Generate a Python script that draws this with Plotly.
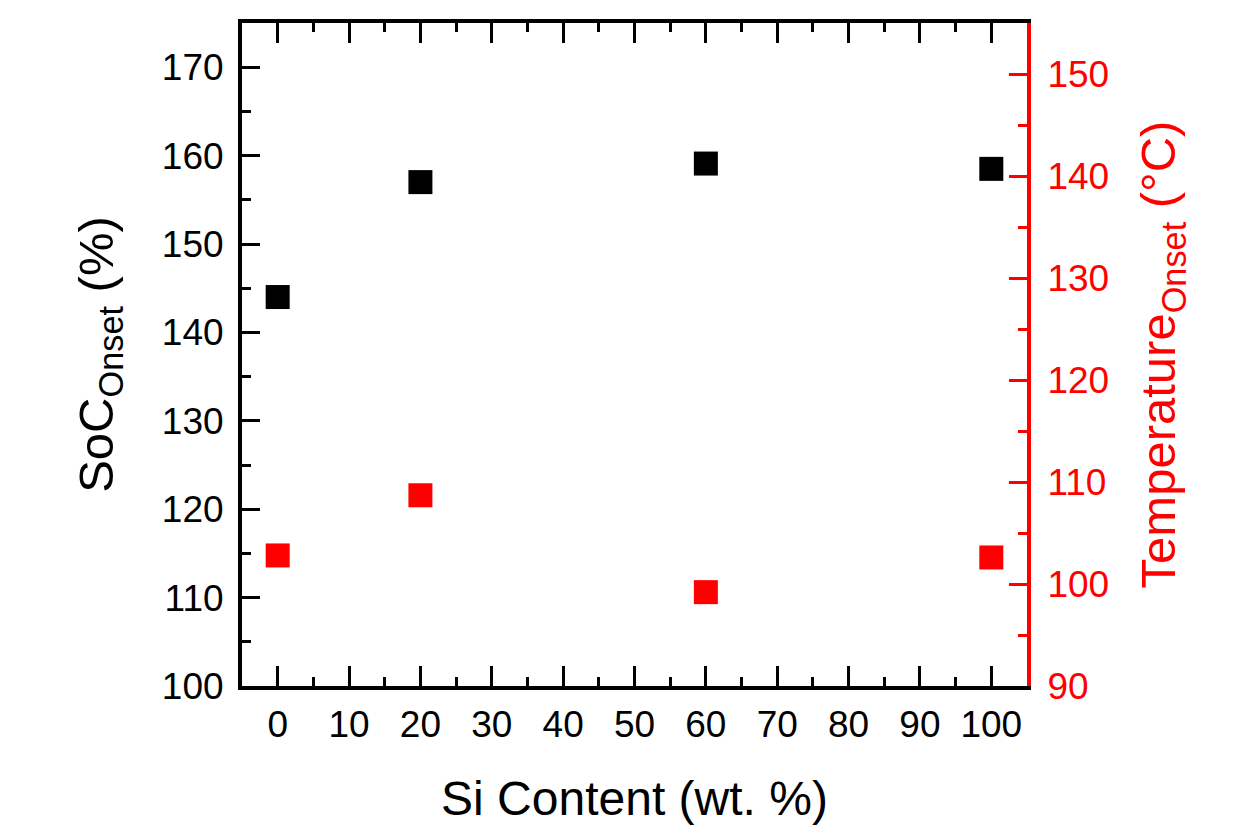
import plotly.graph_objects as go

si_content = [0, 20, 60, 100]
soc_onset = [144.0, 157.0, 159.1, 158.5]
temp_onset = [102.8, 108.7, 99.2, 102.6]

x_ticks = [0, 10, 20, 30, 40, 50, 60, 70, 80, 90, 100]
y_left_ticks = [100, 110, 120, 130, 140, 150, 160, 170]
y_right_ticks = [90, 100, 110, 120, 130, 140, 150]

FONT = "Arial, Liberation Sans, sans-serif"
RED = "#ff0000"

fig = go.Figure()
fig.add_trace(go.Scatter(
    x=si_content, y=soc_onset, mode="markers",
    marker=dict(symbol="square", size=24, color="black", line=dict(width=0)),
    showlegend=False, yaxis="y", xaxis="x"))
fig.add_trace(go.Scatter(
    x=si_content, y=temp_onset, mode="markers",
    marker=dict(symbol="square", size=24, color=RED, line=dict(width=0)),
    showlegend=False, yaxis="y2", xaxis="x"))

fig.update_layout(
    width=1251, height=837,
    margin=dict(l=242, r=224, t=23, b=151),
    paper_bgcolor="white", plot_bgcolor="white",
    font=dict(family=FONT, size=37, color="black"),
    xaxis=dict(
        range=[-5, 105], tickmode="array", tickvals=x_ticks,
        ticktext=[str(v) for v in x_ticks],
        showline=True, linecolor="black", linewidth=4,
        mirror="ticks",
        ticks="inside", ticklen=20, tickwidth=3, tickcolor="black",
        minor=dict(dtick=5, ticks="inside", ticklen=9, tickwidth=3, tickcolor="black"),
        showgrid=False, zeroline=False,
        tickfont=dict(size=37, color="black"),
        ticklabelstandoff=3,
        title=dict(text="Si Content (wt. %)", font=dict(size=48, color="black"), standoff=38),
        automargin=False,
    ),
    yaxis=dict(
        range=[100, 175], tickmode="array", tickvals=y_left_ticks,
        ticktext=[str(v) for v in y_left_ticks],
        showline=True, linecolor="black", linewidth=4,
        ticks="inside", ticklen=18, tickwidth=3, tickcolor="black",
        minor=dict(dtick=5, ticks="inside", ticklen=9, tickwidth=3, tickcolor="black"),
        showgrid=False, zeroline=False,
        tickfont=dict(size=37, color="black"),
        ticklabelstandoff=7,
        title=dict(text="SoC<sub>Onset</sub> (%)", font=dict(size=49, color="black"), standoff=34),
        automargin=False,
    ),
    yaxis2=dict(
        range=[90, 155], tickmode="array", tickvals=y_right_ticks,
        ticktext=[str(v) for v in y_right_ticks],
        overlaying="y", side="right", anchor="x",
        showline=True, linecolor=RED, linewidth=4,
        ticks="inside", ticklen=18, tickwidth=3, tickcolor=RED,
        minor=dict(dtick=5, ticks="inside", ticklen=9, tickwidth=3, tickcolor=RED),
        showgrid=False, zeroline=False,
        tickfont=dict(size=37, color=RED),
        ticklabelstandoff=9,
        title=dict(text="Temperature<sub>Onset</sub> (°C)", font=dict(size=49, color=RED), standoff=34),
        automargin=False,
    ),
)

fig.write_html("out.html")
